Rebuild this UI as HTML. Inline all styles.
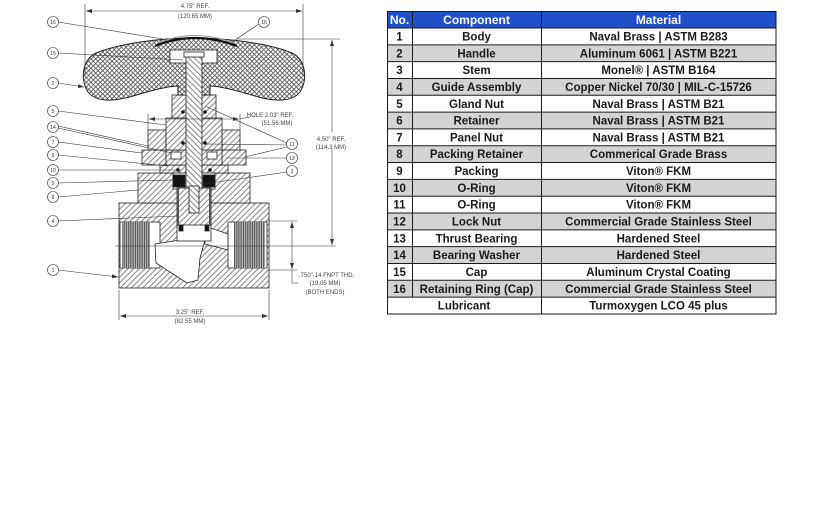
<!DOCTYPE html>
<html><head><meta charset="utf-8"><style>
html,body{margin:0;padding:0;background:#fff;}
svg{display:block;}
.t{font-family:"Liberation Sans",Arial,sans-serif;font-weight:bold;font-size:11.5px;fill:#1a1a1a;}
.h{font-family:"Liberation Sans",Arial,sans-serif;font-weight:bold;font-size:12px;fill:#fff;}
.d{font-family:"Liberation Sans",Arial,sans-serif;font-size:6px;fill:#444;}
.c{font-family:"Liberation Sans",Arial,sans-serif;font-size:5px;fill:#333;}
</style></head><body>
<svg width="825" height="510" viewBox="0 0 825 510" xmlns="http://www.w3.org/2000/svg">
<defs>
<pattern id="h1" width="4" height="4" patternUnits="userSpaceOnUse" patternTransform="rotate(45)"><rect width="4" height="4" fill="#fff"/><line x1="0.5" y1="0" x2="0.5" y2="4" stroke="#666" stroke-width="0.8"/></pattern>
<pattern id="h2" width="4" height="4" patternUnits="userSpaceOnUse" patternTransform="rotate(-45)"><rect width="4" height="4" fill="#fff"/><line x1="0.5" y1="0" x2="0.5" y2="4" stroke="#666" stroke-width="0.8"/></pattern>
<pattern id="cx" width="3.3" height="3.3" patternUnits="userSpaceOnUse" patternTransform="rotate(45)"><rect width="3.3" height="3.3" fill="#fff"/><line x1="0.4" y1="0" x2="0.4" y2="3.3" stroke="#444" stroke-width="0.75"/><line x1="0" y1="0.4" x2="3.3" y2="0.4" stroke="#444" stroke-width="0.75"/></pattern>
<pattern id="thr" width="1.8" height="4" patternUnits="userSpaceOnUse"><rect width="1.8" height="4" fill="#ddd"/><line x1="0.6" y1="0" x2="0.6" y2="4" stroke="#333" stroke-width="0.9"/></pattern>
<marker id="a" markerWidth="6" markerHeight="4" refX="6" refY="2" orient="auto-start-reverse" markerUnits="userSpaceOnUse"><path d="M0,0 L6,2 L0,4z" fill="#333"/></marker>
</defs>

<!-- ===== DRAWING ===== -->
<g stroke="#222" stroke-width="0.8">
<rect x="119" y="203" width="150" height="85" fill="url(#h1)"/>
<rect x="138" y="173" width="112" height="30" fill="url(#h1)"/>
<rect x="120" y="222" width="40" height="46" fill="#fff"/>
<rect x="122" y="222" width="28" height="46" fill="url(#thr)" stroke="none"/>
<rect x="228" y="222" width="39" height="46" fill="#fff"/>
<rect x="234" y="222" width="31" height="46" fill="url(#thr)" stroke="none"/>
<polygon points="155,244 180,240 205,240 200,258 198,280 187,283 156,263" fill="#fff"/>
<polygon points="205,226 228,234 228,250 205,244" fill="#fff"/>
<rect x="177" y="224" width="34" height="17" fill="#fff"/>
<rect x="160" y="165" width="68" height="8" fill="url(#h1)"/>
<rect x="142" y="150" width="24" height="15" fill="url(#h1)"/>
<rect x="222" y="150" width="24" height="15" fill="url(#h1)"/>
<rect x="166" y="150" width="56" height="15" fill="url(#h1)"/>
<rect x="171" y="152" width="10" height="7" fill="#fff"/>
<rect x="207" y="152" width="10" height="7" fill="#fff"/>
<rect x="148" y="130" width="18" height="20" fill="url(#h1)"/>
<rect x="222" y="130" width="18" height="20" fill="url(#h1)"/>
<rect x="166" y="118" width="56" height="32" fill="url(#h1)"/>
<rect x="172" y="95" width="44" height="23" fill="url(#h1)"/>
<rect x="173" y="173" width="42" height="16" fill="#fff"/>
<rect x="173" y="175" width="12" height="12" fill="#111"/>
<rect x="203" y="175" width="12" height="12" fill="#111"/>
<rect x="177" y="188" width="34" height="37" fill="url(#h1)"/>
<rect x="177" y="188" width="2" height="37" fill="#555" stroke="none"/>
<rect x="209" y="188" width="2" height="37" fill="#555" stroke="none"/>
<rect x="179" y="225" width="4" height="6" fill="#111"/>
<rect x="205" y="225" width="4" height="6" fill="#111"/>
<path d="M194 38 C230 38 270 44 292 53 C306 60 308 80 300 92 C292 102 275 102 255 96 C235 90 218 86 210 86 L210 95 L178 95 L178 86 C170 86 153 90 133 96 C113 102 96 102 88 92 C80 80 82 60 96 53 C118 44 158 38 194 38 Z" fill="url(#cx)" stroke-width="1"/>
<rect x="170" y="50" width="47" height="13" fill="#fff"/>
<rect x="186" y="56" width="16" height="132" fill="url(#h2)"/>
<rect x="189" y="186" width="10" height="27" fill="url(#h2)"/>
<rect x="184" y="52" width="20" height="5" fill="#fff"/>
</g>
<path d="M155 46 Q194 30 237 46" fill="none" stroke="#111" stroke-width="2.2"/>
<path d="M158 43 Q194 28 234 43" fill="none" stroke="#999" stroke-width="1"/>
<g fill="#111">
<circle cx="183" cy="112" r="1.8"/><circle cx="205" cy="112" r="1.8"/>
<circle cx="183" cy="143" r="1.8"/><circle cx="205" cy="143" r="1.8"/>
<circle cx="178" cy="170" r="1.8"/><circle cx="210" cy="170" r="1.8"/>
</g>

<g stroke="#333" stroke-width="0.6" fill="none">
<line x1="85" y1="4" x2="85" y2="76"/><line x1="303" y1="4" x2="303" y2="76"/>
<line x1="86" y1="11" x2="302" y2="11" marker-start="url(#a)" marker-end="url(#a)"/>
<line x1="237" y1="39" x2="340" y2="39"/>
<line x1="332" y1="40" x2="332" y2="245" marker-start="url(#a)" marker-end="url(#a)"/>
<line x1="115" y1="246" x2="336" y2="246"/>
<line x1="148" y1="114" x2="148" y2="130"/><line x1="240" y1="114" x2="240" y2="130"/>
<line x1="149" y1="119" x2="239" y2="119" marker-start="url(#a)" marker-end="url(#a)"/>
<line x1="240" y1="119" x2="250" y2="117"/>
<line x1="268" y1="221" x2="297" y2="221"/><line x1="268" y1="270" x2="297" y2="270"/>
<line x1="292" y1="222" x2="292" y2="269" marker-start="url(#a)" marker-end="url(#a)"/>
<polyline points="292,270 292,283 298,283"/>
<line x1="119" y1="290" x2="119" y2="320"/><line x1="269" y1="290" x2="269" y2="320"/>
<line x1="120" y1="316" x2="268" y2="316" marker-start="url(#a)" marker-end="url(#a)"/>
<line x1="58" y1="22" x2="163" y2="39"/>
<line x1="58" y1="53" x2="183" y2="60"/>
<line x1="58" y1="83" x2="84" y2="87" marker-end="url(#a)"/>
<line x1="58" y1="111" x2="166" y2="125"/>
<line x1="58" y1="126" x2="148" y2="146"/>
<line x1="58" y1="128" x2="172" y2="153"/>
<line x1="58" y1="142" x2="142" y2="153"/>
<line x1="58" y1="155" x2="168" y2="166"/>
<line x1="58" y1="170" x2="176" y2="170"/>
<line x1="58" y1="183" x2="174" y2="180"/>
<line x1="58" y1="197" x2="138" y2="190"/>
<line x1="58" y1="221" x2="178" y2="216"/>
<line x1="58" y1="270" x2="118" y2="277" marker-end="url(#a)"/>
<line x1="259" y1="24" x2="232" y2="42"/>
<line x1="287" y1="143" x2="205" y2="106"/>
<line x1="287" y1="145" x2="207" y2="144"/>
<line x1="287" y1="147" x2="245" y2="157"/>
<line x1="287" y1="158" x2="226" y2="158"/>
<line x1="287" y1="172" x2="204" y2="184"/>
</g>
<rect x="312" y="132" width="38" height="17" fill="#fff"/>
<g stroke="#333" stroke-width="0.6" fill="#fff">
<circle cx="53" cy="22" r="5.5"/><circle cx="53" cy="53" r="5.5"/><circle cx="53" cy="83" r="5.5"/>
<circle cx="53" cy="111" r="5.5"/><circle cx="53" cy="127" r="5.5"/><circle cx="53" cy="142" r="5.5"/>
<circle cx="53" cy="155" r="5.5"/><circle cx="53" cy="170" r="5.5"/><circle cx="53" cy="183" r="5.5"/>
<circle cx="53" cy="197" r="5.5"/><circle cx="53" cy="221" r="5.5"/><circle cx="53" cy="270" r="5.5"/>
<circle cx="264" cy="22" r="5.5"/><circle cx="292" cy="144" r="5.5"/><circle cx="292" cy="158" r="5.5"/><circle cx="292" cy="171" r="5.5"/>
</g>
<g class="c" text-anchor="middle">
<text x="53" y="24">16</text><text x="53" y="55">15</text><text x="53" y="85">2</text>
<text x="53" y="113">5</text><text x="53" y="129">14</text><text x="53" y="144">7</text>
<text x="53" y="157">6</text><text x="53" y="172">10</text><text x="53" y="185">9</text>
<text x="53" y="199">8</text><text x="53" y="223">4</text><text x="53" y="272">1</text>
<text x="264" y="24">16</text><text x="292" y="146">11</text><text x="292" y="160">13</text><text x="292" y="173">3</text>
</g>
<g class="d" text-anchor="middle">
<text x="195" y="8">4.75" REF.</text>
<text x="195" y="18">(120.65 MM)</text>
<text x="331" y="141">4.50" REF.</text>
<text x="331" y="149">(114.3 MM)</text>
<text x="270" y="117">HOLE 2.03" REF.</text>
<text x="277" y="125">(51.56 MM)</text>
<text x="190" y="314">3.25" REF.</text>
<text x="190" y="323">(82.55 MM)</text>
<text x="325" y="285">(19.05 MM)</text>
<text x="325" y="294">(BOTH ENDS)</text>
</g>
<text class="d" x="299" y="277">.750"-14 FNPT THD.</text>

<!-- ===== TABLE ===== -->
<rect x="387" y="11" width="389" height="17" fill="#1f4fc9"/>
<g fill="#d3d3d3">
<rect x="387" y="44.82" width="389" height="16.82"/>
<rect x="387" y="78.46" width="389" height="16.82"/>
<rect x="387" y="112.1" width="389" height="16.82"/>
<rect x="387" y="145.74" width="389" height="16.82"/>
<rect x="387" y="179.38" width="389" height="16.82"/>
<rect x="387" y="213.02" width="389" height="16.82"/>
<rect x="387" y="246.66" width="389" height="16.82"/>
<rect x="387" y="280.3" width="389" height="16.82"/>
</g>
<g stroke="#1a1a1a" stroke-width="1" fill="none">
<rect x="387.5" y="11.5" width="388.5" height="302.5"/>
<line x1="412.5" y1="11" x2="412.5" y2="297.1"/>
<line x1="541.5" y1="11" x2="541.5" y2="314"/>
<line x1="387" y1="28" x2="776" y2="28"/>
<line x1="387" y1="44.82" x2="776" y2="44.82"/>
<line x1="387" y1="61.64" x2="776" y2="61.64"/>
<line x1="387" y1="78.46" x2="776" y2="78.46"/>
<line x1="387" y1="95.28" x2="776" y2="95.28"/>
<line x1="387" y1="112.1" x2="776" y2="112.1"/>
<line x1="387" y1="128.92" x2="776" y2="128.92"/>
<line x1="387" y1="145.74" x2="776" y2="145.74"/>
<line x1="387" y1="162.56" x2="776" y2="162.56"/>
<line x1="387" y1="179.38" x2="776" y2="179.38"/>
<line x1="387" y1="196.2" x2="776" y2="196.2"/>
<line x1="387" y1="213.02" x2="776" y2="213.02"/>
<line x1="387" y1="229.84" x2="776" y2="229.84"/>
<line x1="387" y1="246.66" x2="776" y2="246.66"/>
<line x1="387" y1="263.48" x2="776" y2="263.48"/>
<line x1="387" y1="280.3" x2="776" y2="280.3"/>
<line x1="387" y1="297.12" x2="776" y2="297.12"/>
</g>
<g class="h" text-anchor="middle">
<text x="399.5" y="24">No.</text>
<text x="476.5" y="24">Component</text>
<text x="658.5" y="24">Material</text>
</g>
<g class="t" text-anchor="middle">
<text x="399.5" y="40.5">1</text><text x="476.5" y="40.5">Body</text><text x="658.5" y="40.5">Naval Brass | ASTM B283</text>
<text x="399.5" y="57.3">2</text><text x="476.5" y="57.3">Handle</text><text x="658.5" y="57.3">Aluminum 6061 | ASTM B221</text>
<text x="399.5" y="74.1">3</text><text x="476.5" y="74.1">Stem</text><text x="658.5" y="74.1">Monel® | ASTM B164</text>
<text x="399.5" y="91">4</text><text x="476.5" y="91">Guide Assembly</text><text x="658.5" y="91">Copper Nickel 70/30 | MIL-C-15726</text>
<text x="399.5" y="107.8">5</text><text x="476.5" y="107.8">Gland Nut</text><text x="658.5" y="107.8">Naval Brass | ASTM B21</text>
<text x="399.5" y="124.6">6</text><text x="476.5" y="124.6">Retainer</text><text x="658.5" y="124.6">Naval Brass | ASTM B21</text>
<text x="399.5" y="141.4">7</text><text x="476.5" y="141.4">Panel Nut</text><text x="658.5" y="141.4">Naval Brass | ASTM B21</text>
<text x="399.5" y="158.2">8</text><text x="476.5" y="158.2">Packing Retainer</text><text x="658.5" y="158.2">Commerical Grade Brass</text>
<text x="399.5" y="175.1">9</text><text x="476.5" y="175.1">Packing</text><text x="658.5" y="175.1">Viton® FKM</text>
<text x="399.5" y="191.9">10</text><text x="476.5" y="191.9">O-Ring</text><text x="658.5" y="191.9">Viton® FKM</text>
<text x="399.5" y="208.7">11</text><text x="476.5" y="208.7">O-Ring</text><text x="658.5" y="208.7">Viton® FKM</text>
<text x="399.5" y="225.5">12</text><text x="476.5" y="225.5">Lock Nut</text><text x="658.5" y="225.5">Commercial Grade Stainless Steel</text>
<text x="399.5" y="242.3">13</text><text x="476.5" y="242.3">Thrust Bearing</text><text x="658.5" y="242.3">Hardened Steel</text>
<text x="399.5" y="259.2">14</text><text x="476.5" y="259.2">Bearing Washer</text><text x="658.5" y="259.2">Hardened Steel</text>
<text x="399.5" y="276">15</text><text x="476.5" y="276">Cap</text><text x="658.5" y="276">Aluminum Crystal Coating</text>
<text x="399.5" y="292.8">16</text><text x="476.5" y="292.8">Retaining Ring (Cap)</text><text x="658.5" y="292.8">Commercial Grade Stainless Steel</text>
<text x="464" y="309.6">Lubricant</text><text x="658.5" y="309.6">Turmoxygen LCO 45 plus</text>
</g>
</svg>
</body></html>
